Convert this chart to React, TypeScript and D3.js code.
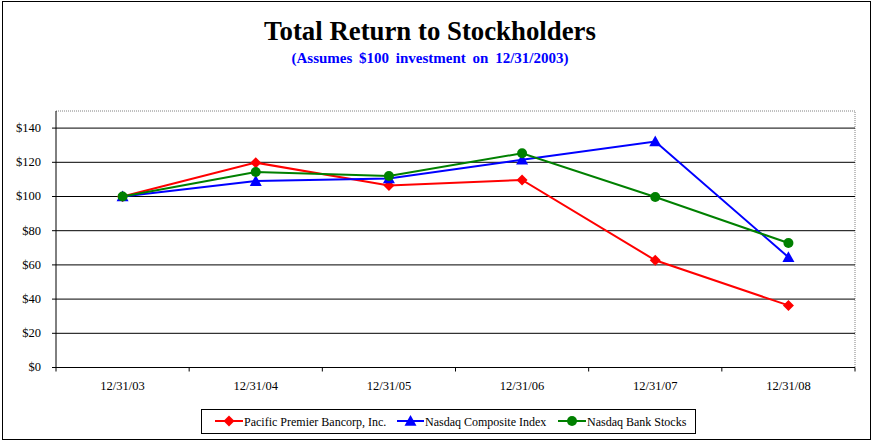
import React from "react";
import * as d3 from "d3";

const categories = ["12/31/03", "12/31/04", "12/31/05", "12/31/06", "12/31/07", "12/31/08"];
const pacificPremier = [100, 119.8, 106.5, 109.7, 62.7, 36.3];
const nasdaqComposite = [100, 109.0, 110.5, 121.5, 132.2, 64.5];
const nasdaqBank = [100, 114.3, 112.0, 125.3, 99.7, 72.8];
const yTicks = [0, 20, 40, 60, 80, 100, 120, 140];

const seriesList = [
  { name: "Pacific Premier Bancorp, Inc.", values: pacificPremier, color: "#FF0000", marker: "diamond" },
  { name: "Nasdaq Composite Index", values: nasdaqComposite, color: "#0000FF", marker: "triangle" },
  { name: "Nasdaq Bank Stocks", values: nasdaqBank, color: "#008000", marker: "circle" },
];

const W = 877;
const H = 444;
const plot = { left: 56, top: 111, right: 855, bottom: 367.5 };
const FONT = "'Liberation Serif', 'Times New Roman', serif";

function Marker({ type, x, y, color }: { type: string; x: number; y: number; color: string }) {
  if (type === "diamond") {
    const s = 5.5;
    return <path d={`M${x},${y - s}L${x + s},${y}L${x},${y + s}L${x - s},${y}Z`} fill={color} />;
  }
  if (type === "triangle") {
    const s = 6;
    return <path d={`M${x},${y - s}L${x + s},${y + s * 0.8}L${x - s},${y + s * 0.8}Z`} fill={color} />;
  }
  return <circle cx={x} cy={y} r={5} fill={color} />;
}

export default function App() {
  const x = d3.scaleBand<string>().domain(categories).range([plot.left, plot.right]);
  const y = d3.scaleLinear().domain([0, 150]).range([plot.bottom, plot.top]);
  const cx = (c: string) => (x(c) ?? 0) + x.bandwidth() / 2;
  const line = d3
    .line<number>()
    .x((_, i) => cx(categories[i]))
    .y((v) => y(v));

  const legendItems = [
    { lx: 215, tx: 244 },
    { lx: 397, tx: 425 },
    { lx: 558, tx: 587 },
  ];

  return (
    <svg width={W} height={H} style={{ position: "absolute", left: 0, top: 0 }} fontFamily={FONT}>
      <rect x={0} y={0} width={W} height={H} fill="#fff" />
      <rect x={2.5} y={1.5} width={868} height={438} fill="none" stroke="#000" strokeWidth={1} />
      <text x={430} y={40} textAnchor="middle" fontSize={26.8} fontWeight="bold" fill="#000">
        Total Return to Stockholders
      </text>
      <text
        x={430}
        y={63}
        textAnchor="middle"
        fontSize={15}
        fontWeight="bold"
        fill="#0000FF"
        style={{ wordSpacing: "3px" }}
      >
        (Assumes $100 investment on 12/31/2003)
      </text>

      {/* plot frame */}
      <path
        d={`M${plot.left},${plot.top}H${plot.right}V${plot.bottom}`}
        fill="none"
        stroke="#808080"
        strokeDasharray="1,1"
      />
      {yTicks.map((t) => (
        <g key={t}>
          <line x1={plot.left} x2={plot.right} y1={y(t)} y2={y(t)} stroke="#000" strokeWidth={1} />
          <line x1={plot.left - 4} x2={plot.left} y1={y(t)} y2={y(t)} stroke="#000" />
          <text x={plot.left - 15} y={y(t) + 3.8} textAnchor="end" fontSize={12.5} fill="#000">
            {"$" + t}
          </text>
        </g>
      ))}
      <line x1={plot.left} x2={plot.left} y1={plot.top} y2={plot.bottom} stroke="#000" />
      {categories.map((c, i) => (
        <g key={c}>
          <line x1={x(c)} x2={x(c)} y1={plot.bottom} y2={plot.bottom + 4} stroke="#000" />
          {i === categories.length - 1 && (
            <line x1={plot.right} x2={plot.right} y1={plot.bottom} y2={plot.bottom + 4} stroke="#000" />
          )}
          <text x={cx(c)} y={390} textAnchor="middle" fontSize={12.5} fill="#000">
            {c}
          </text>
        </g>
      ))}

      {seriesList.map((s) => (
        <g key={s.name}>
          <path d={line(s.values) ?? ""} fill="none" stroke={s.color} strokeWidth={2} />
          {s.values.map((v, i) => (
            <Marker key={i} type={s.marker} x={cx(categories[i])} y={y(v)} color={s.color} />
          ))}
        </g>
      ))}

      {/* legend */}
      <rect x={201.5} y={409.5} width={494} height={24} fill="#fff" stroke="#000" />
      {seriesList.map((s, i) => {
        const it = legendItems[i];
        return (
          <g key={s.name}>
            <line x1={it.lx} x2={it.tx - 1} y1={421} y2={421} stroke={s.color} strokeWidth={2} />
            <Marker type={s.marker} x={(it.lx + it.tx - 1) / 2} y={421} color={s.color} />
            <text x={it.tx} y={425.5} fontSize={12} fill="#000">
              {s.name}
            </text>
          </g>
        );
      })}
    </svg>
  );
}
